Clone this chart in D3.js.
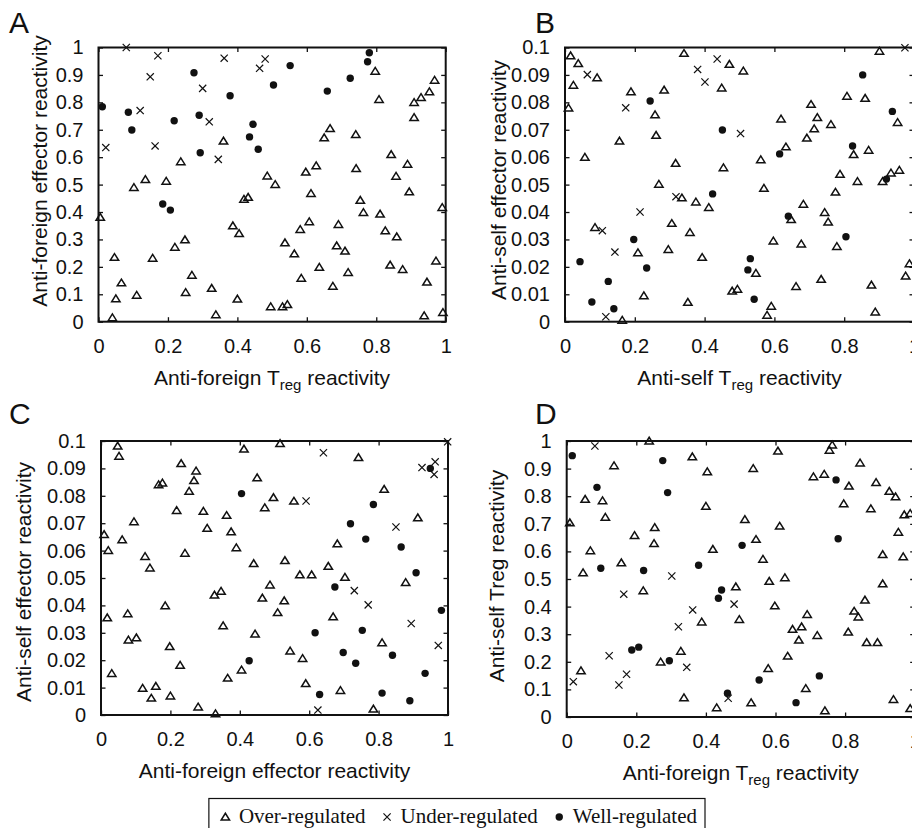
<!DOCTYPE html>
<html>
<head>
<meta charset="utf-8">
<script src="https://cdn.jsdelivr.net/npm/d3@7"></script>
<style>
  html, body { margin: 0; padding: 0; background: #fff; overflow: hidden; }
  svg { display: block; }
</style>
</head>
<body>
<svg id="fig" width="912" height="828" style="font-family:'Liberation Sans', Arial, Helvetica, sans-serif"></svg>
<script>
// ---- tick values ----
const tenths = [0, 0.1, 0.2, 0.3, 0.4, 0.5, 0.6, 0.7, 0.8, 0.9, 1];
const fifths = [0, 0.2, 0.4, 0.6, 0.8, 1];
const hundredths = [0, 0.01, 0.02, 0.03, 0.04, 0.05, 0.06, 0.07, 0.08, 0.09, 0.1];

// ---- A: anti-foreign Treg (x) vs anti-foreign effector (y) ----
const aOver = [[0.360,0.659],[0.237,0.584],[0.135,0.519],[0.102,0.490],[0.195,0.513],[0.486,0.532],[0.509,0.501],[0.419,0.447],[0.431,0.454],[0.005,0.381],[0.387,0.350],[0.405,0.322],[0.249,0.299],[0.220,0.272],[0.046,0.235],[0.156,0.232],[0.269,0.170],[0.066,0.142],[0.326,0.122],[0.251,0.107],[0.110,0.097],[0.050,0.084],[0.400,0.083],[0.496,0.055],[0.040,0.015],[0.338,0.026],
  [0.797,0.914],[0.968,0.881],[0.953,0.839],[0.929,0.818],[0.909,0.800],[0.808,0.811],[0.909,0.745],[0.667,0.705],[0.650,0.671],[0.741,0.683],[0.843,0.610],[0.890,0.575],[0.857,0.531],[0.627,0.569],[0.597,0.546],[0.742,0.559],[0.895,0.474],[0.612,0.468],[0.754,0.443],[0.763,0.399],[0.811,0.393],[0.990,0.417],[0.607,0.365],[0.581,0.337],[0.691,0.355],[0.826,0.332],[0.859,0.310],[0.537,0.288],[0.564,0.248],[0.686,0.277],[0.710,0.258],[0.636,0.199],[0.840,0.207],[0.876,0.191],[0.972,0.222],[0.719,0.180],[0.584,0.159],[0.675,0.130],[0.946,0.145],[0.530,0.055],[0.544,0.063],[0.938,0.022],[0.992,0.034]];
const aUnder = [[0.080,1.0],[0.171,0.970],[0.362,0.961],[0.480,0.958],[0.464,0.924],[0.149,0.893],[0.300,0.851],[0.120,0.770],[0.319,0.729],[0.021,0.635],[0.163,0.641],[0.345,0.592]];
const aWell = [[0.275,0.908],[0.504,0.863],[0.379,0.824],[0.011,0.784],[0.086,0.764],[0.290,0.753],[0.218,0.733],[0.096,0.699],[0.445,0.720],[0.435,0.674],[0.460,0.629],[0.293,0.616],[0.185,0.429],[0.207,0.407],[0.780,0.981],[0.775,0.948],[0.552,0.934],[0.725,0.888],[0.659,0.841]];

// ---- B: anti-self Treg (x) vs anti-self effector (y) ----
const bOver = [[0.016,0.0970],[0.038,0.0942],[0.024,0.0863],[0.010,0.0780],[0.092,0.0890],[0.057,0.0600],[0.341,0.0979],[0.189,0.0839],[0.284,0.0845],[0.258,0.0755],[0.261,0.0680],[0.156,0.0659],[0.317,0.0578],[0.269,0.0502],[0.335,0.0452],[0.375,0.0437],[0.412,0.0417],[0.454,0.0562],[0.086,0.0344],[0.306,0.0359],[0.358,0.0326],[0.209,0.0252],[0.296,0.0264],[0.393,0.0235],[0.226,0.0095],[0.352,0.0071],[0.164,0.0006],[0.449,0.0853],
  [0.901,0.0987],[0.471,0.0939],[0.511,0.0915],[0.808,0.0823],[0.860,0.0815],[0.705,0.0793],[0.619,0.0740],[0.723,0.0745],[0.714,0.0704],[0.762,0.0720],[0.953,0.0727],[0.693,0.0670],[0.633,0.0638],[0.870,0.0626],[0.827,0.0610],[0.561,0.0591],[0.788,0.0538],[0.838,0.0512],[0.775,0.0473],[0.910,0.0512],[0.934,0.0543],[0.958,0.0553],[0.570,0.0487],[0.683,0.0429],[0.744,0.0399],[0.754,0.0364],[0.648,0.0373],[0.597,0.0295],[0.677,0.0284],[0.779,0.0275],[0.547,0.0177],[0.479,0.0112],[0.494,0.0119],[0.662,0.0129],[0.734,0.0155],[0.878,0.0134],[0.987,0.0212],[0.976,0.0167],[0.591,0.0057],[0.579,0.0024],[0.889,0.0036]];
const bUnder = [[0.064,0.0901],[0.174,0.0780],[0.380,0.0920],[0.401,0.0874],[0.436,0.0958],[0.215,0.0400],[0.318,0.0456],[0.107,0.0332],[0.143,0.0254],[0.117,0.0018],[0.974,0.0999],[0.503,0.0686]];
const bWell = [[0.244,0.0805],[0.451,0.0699],[0.423,0.0466],[0.197,0.0300],[0.043,0.0219],[0.234,0.0196],[0.124,0.0147],[0.077,0.0072],[0.140,0.0047],[0.853,0.0900],[0.938,0.0767],[0.824,0.0641],[0.615,0.0612],[0.921,0.0520],[0.640,0.0385],[0.805,0.0310],[0.531,0.0230],[0.524,0.0189],[0.542,0.0082]];

// ---- C: anti-foreign effector (x) vs anti-self effector (y) ----
const cOver = [[0.048,0.0982],[0.052,0.0945],[0.231,0.0918],[0.274,0.0891],[0.268,0.0856],[0.166,0.0841],[0.177,0.0847],[0.254,0.0817],[0.412,0.0971],[0.450,0.0866],[0.497,0.0794],[0.472,0.0757],[0.218,0.0747],[0.295,0.0744],[0.362,0.0729],[0.095,0.0706],[0.306,0.0682],[0.375,0.0669],[0.009,0.0659],[0.061,0.0640],[0.021,0.0601],[0.390,0.0611],[0.127,0.0579],[0.242,0.0591],[0.141,0.0537],[0.440,0.0553],[0.487,0.0475],[0.346,0.0452],[0.327,0.0438],[0.465,0.0427],[0.185,0.0399],[0.018,0.0355],[0.077,0.0370],[0.352,0.0326],[0.444,0.0296],[0.079,0.0274],[0.102,0.0282],[0.198,0.0250],[0.228,0.0182],
  [0.516,0.0991],[0.742,0.0940],[0.556,0.0781],[0.816,0.0824],[0.913,0.0720],[0.681,0.0625],[0.530,0.0564],[0.655,0.0543],[0.573,0.0512],[0.607,0.0512],[0.703,0.0503],[0.878,0.0484],[0.528,0.0417],[0.509,0.0374],[0.669,0.0359],[0.810,0.0264],[0.545,0.0234],[0.581,0.0207],
  [0.031,0.0152],[0.120,0.0098],[0.145,0.0062],[0.158,0.0105],[0.200,0.0070],[0.280,0.0030],[0.330,0.0005],[0.365,0.0135],[0.405,0.0165],[0.590,0.0115],[0.690,0.0090],[0.785,0.0022]];
const cUnder = [[0.641,0.0957],[0.591,0.0781],[0.999,0.0997],[0.925,0.0903],[0.963,0.0924],[0.960,0.0878],[0.850,0.0686],[0.730,0.0454],[0.770,0.0402],[0.894,0.0334],[0.972,0.0254],[0.625,0.0018]];
const cWell = [[0.949,0.0900],[0.785,0.0768],[0.719,0.0698],[0.763,0.0642],[0.865,0.0613],[0.908,0.0519],[0.674,0.0467],[0.981,0.0382],[0.617,0.0300],[0.753,0.0309],[0.698,0.0228],[0.840,0.0218],[0.734,0.0189],[0.405,0.0808],[0.427,0.0198],[0.630,0.0075],[0.810,0.0080],[0.890,0.0052],[0.934,0.0152]];

// ---- D: anti-foreign Treg (x) vs anti-self Treg (y) ----
const dOver = [[0.237,1.0],[0.361,0.943],[0.404,0.889],[0.136,0.911],[0.053,0.789],[0.103,0.784],[0.111,0.724],[0.009,0.704],[0.400,0.764],[0.253,0.687],[0.195,0.658],[0.251,0.629],[0.068,0.603],[0.420,0.608],[0.047,0.523],[0.157,0.559],[0.220,0.458],[0.388,0.345],
  [0.041,0.168],[0.270,0.200],[0.328,0.239],[0.337,0.070],[0.431,0.034],[0.530,0.052],[0.579,0.176],[0.635,0.221],[0.667,0.279],[0.687,0.104],[0.742,0.023],[0.862,0.270],[0.893,0.270],[0.939,0.064],[0.987,0.031],
  [0.607,0.964],[0.763,0.986],[0.755,0.967],[0.843,0.921],[0.536,0.901],[0.709,0.871],[0.740,0.880],[0.811,0.837],[0.889,0.850],[0.927,0.818],[0.945,0.798],[0.796,0.773],[0.874,0.755],[0.970,0.733],[0.987,0.738],[0.512,0.716],[0.612,0.692],[0.953,0.670],[0.544,0.644],[0.564,0.572],[0.908,0.589],[0.967,0.581],[0.486,0.472],[0.582,0.492],[0.627,0.505],[0.908,0.483],[0.598,0.403],[0.496,0.354],[0.857,0.424],[0.826,0.384],[0.838,0.363],[0.691,0.372],[0.649,0.318],[0.675,0.327],[0.720,0.296],[0.809,0.308]];
const dUnder = [[0.081,0.982],[0.302,0.511],[0.164,0.445],[0.362,0.388],[0.321,0.327],[0.019,0.128],[0.122,0.222],[0.172,0.155],[0.150,0.116],[0.345,0.180],[0.464,0.068],[0.481,0.409]];
const dWell = [[0.016,0.947],[0.087,0.832],[0.276,0.929],[0.290,0.813],[0.098,0.539],[0.221,0.531],[0.379,0.550],[0.445,0.460],[0.436,0.430],[0.187,0.243],[0.207,0.253],[0.295,0.204],[0.774,0.859],[0.780,0.646],[0.504,0.622],[0.462,0.086],[0.553,0.134],[0.659,0.052],[0.726,0.149]];

const legendLabels = ["Over-regulated", "Under-regulated", "Well-regulated"];

// ---- layout of the four panels ----
const panels = [
  { letter: "A", left: 98.5, right: 445.7, top: 47.5, bottom: 321.7, yMax: 1, yTicks: tenths,
    xTitle: ["Anti-foreign T", "reg", " reactivity"], yTitle: "Anti-foreign effector reactivity",
    yTitleX: 40, yTitleY: 171, letterX: 9, letterY: 33, over: aOver, under: aUnder, well: aWell },
  { letter: "B", left: 565, right: 914, top: 47.5, bottom: 321.7, yMax: 0.1, yTicks: hundredths,
    xTitle: ["Anti-self T", "reg", " reactivity"], yTitle: "Anti-self effector reactivity",
    yTitleX: 499, yTitleY: 180, letterX: 535, letterY: 33, over: bOver, under: bUnder, well: bWell },
  { letter: "C", left: 101, right: 448, top: 441, bottom: 715, yMax: 0.1, yTicks: hundredths,
    xTitle: ["Anti-foreign effector reactivity"], yTitle: "Anti-self effector reactivity",
    yTitleX: 24, yTitleY: 582, letterX: 9, letterY: 424, over: cOver, under: cUnder, well: cWell },
  { letter: "D", left: 566.7, right: 914.7, top: 441, bottom: 717, yMax: 1, yTicks: tenths,
    xTitle: ["Anti-foreign T", "reg", " reactivity"], yTitle: "Anti-self Treg reactivity",
    yTitleX: 497, yTitleY: 576, letterX: 535, letterY: 424, over: dOver, under: dUnder, well: dWell }
];

const svg = d3.select("#fig");
const triPath = "M-4.2,3.1L4.2,3.1L0,-3.7Z";
const crossPath = "M-3.6,-3.6L3.6,3.6M-3.6,3.6L3.6,-3.6";
const fmt = d => String(d);
const TICK = 4.5;

function styleAxis(g) {
  g.select(".domain").remove();
  g.selectAll(".tick line").attr("stroke", "#111").attr("stroke-width", 1.3);
  g.selectAll(".tick text").attr("font-size", 20).attr("fill", "#111");
  g.attr("font-family", null).attr("font-size", null);
}

panels.forEach(p => {
  const x = d3.scaleLinear().domain([0, 1]).range([p.left, p.right]);
  const y = d3.scaleLinear().domain([0, p.yMax]).range([p.bottom, p.top]);
  const g = svg.append("g");

  // axes with inward ticks on all four sides
  g.append("g").attr("transform", `translate(0,${p.bottom})`)
    .call(d3.axisBottom(x).tickValues(fifths).tickSize(-TICK).tickPadding(17).tickFormat(fmt))
    .call(styleAxis);
  g.append("g").attr("transform", `translate(0,${p.top})`)
    .call(d3.axisTop(x).tickValues(fifths).tickSize(-TICK).tickFormat(() => ""))
    .call(styleAxis);
  g.append("g").attr("transform", `translate(${p.left},0)`)
    .call(d3.axisLeft(y).tickValues(p.yTicks).tickSize(-TICK).tickPadding(15).tickFormat(fmt))
    .call(styleAxis);
  g.append("g").attr("transform", `translate(${p.right},0)`)
    .call(d3.axisRight(y).tickValues(p.yTicks).tickSize(-TICK).tickFormat(() => ""))
    .call(styleAxis);

  // frame
  g.append("rect")
    .attr("x", x(0)).attr("y", y(p.yMax))
    .attr("width", x(1) - x(0)).attr("height", y(0) - y(p.yMax))
    .attr("fill", "none").attr("stroke", "#111").attr("stroke-width", 2);

  // markers
  const m = g.append("g");
  m.selectAll("path.over").data(p.over).join("path").attr("class", "over")
    .attr("d", triPath).attr("transform", d => `translate(${x(d[0])},${y(d[1])})`)
    .attr("fill", "none").attr("stroke", "#111").attr("stroke-width", 1.5);
  m.selectAll("path.under").data(p.under).join("path").attr("class", "under")
    .attr("d", crossPath).attr("transform", d => `translate(${x(d[0])},${y(d[1])})`)
    .attr("fill", "none").attr("stroke", "#111").attr("stroke-width", 1.2);
  m.selectAll("circle.well").data(p.well).join("circle").attr("class", "well")
    .attr("cx", d => x(d[0])).attr("cy", d => y(d[1])).attr("r", 3.7).attr("fill", "#111");

  // axis titles
  const xt = g.append("text").attr("x", (p.left + p.right) / 2).attr("y", p.bottom + 63)
    .attr("text-anchor", "middle").attr("font-size", 21).attr("fill", "#111");
  xt.append("tspan").text(p.xTitle[0]);
  if (p.xTitle.length > 1) {
    xt.append("tspan").attr("font-size", 15).attr("dy", 5).text(p.xTitle[1]);
    xt.append("tspan").attr("dy", -5).text(p.xTitle[2]);
  }
  g.append("text")
    .attr("transform", `translate(${p.yTitleX},${p.yTitleY}) rotate(-90)`)
    .attr("text-anchor", "middle").attr("dy", "0.35em").attr("font-size", 21).attr("fill", "#111")
    .text(p.yTitle);

  // panel letter
  g.append("text").attr("x", p.letterX).attr("y", p.letterY)
    .attr("font-size", 30).attr("fill", "#111").text(p.letter);
});

// ---- legend ----
const leg = svg.append("g");
const legTop = 798.5, legBase = 822.5, symY = 817;
const legendSyms = [
  s => s.append("path").attr("d", triPath).attr("fill", "none").attr("stroke", "#111").attr("stroke-width", 1.5),
  s => s.append("path").attr("d", crossPath).attr("fill", "none").attr("stroke", "#111").attr("stroke-width", 1.2),
  s => s.append("circle").attr("r", 3.7).attr("fill", "#111")
];
let cx = 0;
const items = leg.append("g");
legendLabels.forEach((lab, i) => {
  if (i > 0) cx += 17;
  const sg = items.append("g").attr("transform", `translate(${cx + 4.5},${symY})`);
  legendSyms[i](sg);
  cx += 9 + 9;
  const t = items.append("text").attr("x", cx).attr("y", legBase)
    .style("font-family", "'Liberation Serif', 'Times New Roman', serif")
    .attr("font-size", 21).attr("fill", "#111").text(lab);
  cx += t.node().getComputedTextLength();
});
const padL = 12, padR = 8;
const boxW = cx + padL + padR;
const boxRight = 705;
const boxLeft = boxRight - boxW;
items.attr("transform", `translate(${boxLeft + padL},0)`);
leg.insert("rect", ":first-child").attr("x", boxLeft).attr("y", legTop)
  .attr("width", boxW).attr("height", 40)
  .attr("fill", "#fff").attr("stroke", "#111").attr("stroke-width", 1.2);
</script>
</body>
</html>
